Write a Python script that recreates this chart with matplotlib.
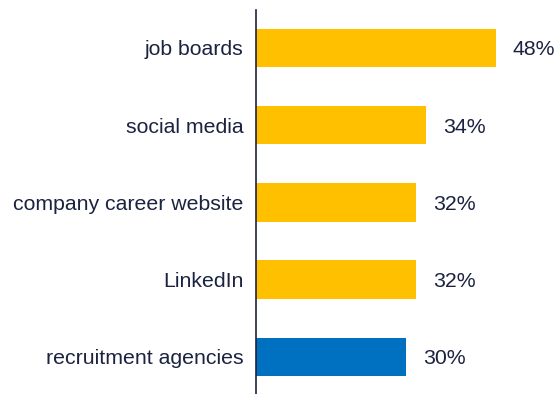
import matplotlib.pyplot as plt

# channels used when looking for a job
channels = ['job boards', 'social media', 'company career website',
            'LinkedIn', 'recruitment agencies']
shares = [48, 34, 32, 32, 30]
bar_colors = ['#FFC000', '#FFC000', '#FFC000', '#FFC000', '#0070C0']

text_color = '#1B2340'
plt.rcParams['font.family'] = ['Liberation Sans', 'DejaVu Sans']

fig = plt.figure(figsize=(5.6, 3.94), dpi=100)
ax = fig.add_axes([256 / 560, 0, (560 - 256) / 560, 384 / 394])

pos = list(range(len(channels)))
ax.barh(pos, shares, height=0.5, color=bar_colors)

for p, v in zip(pos, shares):
    ax.annotate(f'{v}%', (v, p), xytext=(12, -1.5), textcoords='offset points',
                va='center', ha='left', fontsize=15.3, color=text_color)

ax.set_xlim(0, 60.8)
ax.set_ylim(4.48, -0.49)
ax.set_yticks(pos)
ax.set_yticklabels(channels, fontsize=15.3, color=text_color)
ax.tick_params(axis='y', length=0, pad=9)
ax.set_xticks([])

for side in ['top', 'right', 'bottom']:
    ax.spines[side].set_visible(False)
ax.spines['left'].set_color(text_color)
ax.spines['left'].set_linewidth(1.2)

fig.savefig('out.png', dpi=100)
